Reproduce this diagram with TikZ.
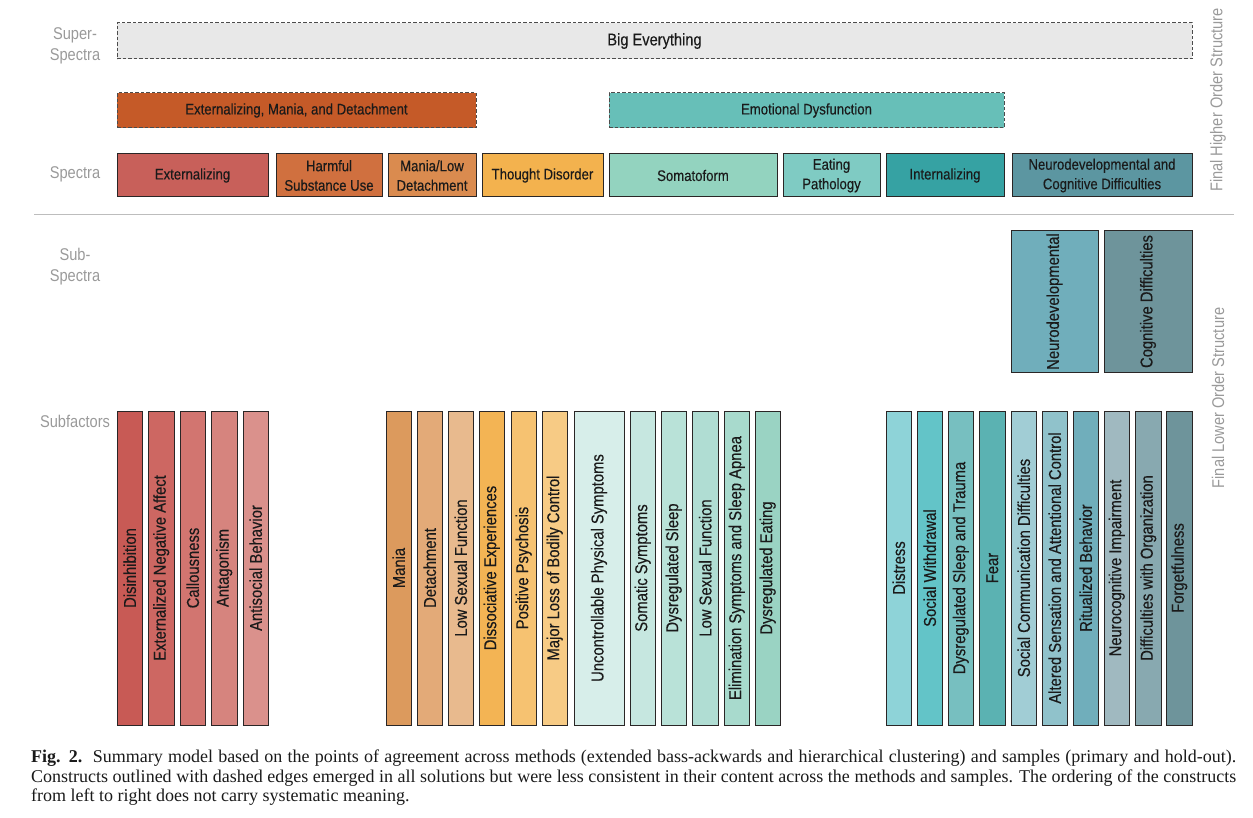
\documentclass[tikz,border=0pt]{standalone}
\usepackage{fontspec}
\setmainfont{Liberation Sans}[FakeStretch=0.86]
\newfontfamily\boxfont{Liberation Sans}[FakeStretch=0.86, FakeBold=0.3]
\newfontfamily\capfont{Liberation Serif}
\newcommand\fspec{\boxfont\fontsize{15.3}{19.5}\selectfont}
\newcommand\fbig{\boxfont\fontsize{17}{20}\selectfont}
\newcommand\fsubf{\boxfont\fontsize{17.2}{20}\selectfont}
\newcommand\flab{\fontsize{17}{21}\selectfont}
\newcommand\fcap{\fontsize{18}{20}\selectfont}
% colours
\definecolor{cBig}{HTML}{E8E8E8}
\definecolor{cEMD}{HTML}{C55A28}
\definecolor{cED}{HTML}{67BFB8}
\definecolor{cExt}{HTML}{C8605A}
\definecolor{cHSU}{HTML}{D0703F}
\definecolor{cMLD}{HTML}{DA8B4F}
\definecolor{cTD}{HTML}{F3B24E}
\definecolor{cSom}{HTML}{93D3BF}
\definecolor{cEat}{HTML}{7FCBC3}
\definecolor{cInt}{HTML}{36A2A3}
\definecolor{cNCD}{HTML}{5C96A1}
\definecolor{cLab}{HTML}{9A9A9A}
\definecolor{cLine}{HTML}{BDBDBD}
\definecolor{cTxt}{HTML}{1A1A1A}
\definecolor{cBord}{HTML}{2A2626}
% subfactor colours
\definecolor{s1}{HTML}{C85A55}
\definecolor{s2}{HTML}{CD6762}
\definecolor{s3}{HTML}{D27570}
\definecolor{s4}{HTML}{D6847E}
\definecolor{s5}{HTML}{DA918C}
\definecolor{m1}{HTML}{DC9A5D}
\definecolor{m2}{HTML}{E3AA78}
\definecolor{m3}{HTML}{E8BA8E}
\definecolor{m4}{HTML}{F3B454}
\definecolor{m5}{HTML}{F6C271}
\definecolor{m6}{HTML}{F7CB85}
\definecolor{g1}{HTML}{D7EEEA}
\definecolor{g2}{HTML}{C6E7E0}
\definecolor{g3}{HTML}{B9E2D8}
\definecolor{g4}{HTML}{B0DDD3}
\definecolor{g5}{HTML}{A8DACD}
\definecolor{g6}{HTML}{9AD3C3}
\definecolor{t1}{HTML}{8ED3D8}
\definecolor{t2}{HTML}{63C4C8}
\definecolor{t3}{HTML}{77BFC0}
\definecolor{t4}{HTML}{5BB2B2}
\definecolor{t5}{HTML}{A1CDD5}
\definecolor{t6}{HTML}{90C2CB}
\definecolor{t7}{HTML}{70AEBB}
\definecolor{t8}{HTML}{A0B9C0}
\definecolor{t9}{HTML}{88A9B0}
\definecolor{t10}{HTML}{6E949B}
\tikzset{
  boxbase/.style={draw=cBord, line width=1pt, inner sep=0pt, text=cTxt, align=center},
  spec/.style={boxbase, font=\fspec, minimum height=43pt},
  dashbox/.style={boxbase, draw=black!70, dash pattern=on 3.5pt off 2pt, font=\fspec, minimum height=35pt},
  sfb/.style={boxbase, rotate=90, font=\fsubf, minimum width=314pt, minimum height=25.5pt},
  ssb/.style={boxbase, rotate=90, font=\fsubf, minimum width=141pt},
  rowlab/.style={text=cLab, font=\flab, align=center, inner sep=0pt},
  sidelab/.style={text=cLab, font=\flab, rotate=90, inner sep=0pt},
  capline/.style={anchor=base west, inner sep=0pt, text=cTxt, font=\capfont\fcap}
}
\newcommand\spbox[5]{\node[spec, fill=#4, minimum width={(#3)-(#2)}] (#1) at ({((#2)+(#3))/2},175.5) {#5};}
\newcommand\sfbar[4]{\node[sfb, fill=#3] (#1) at ({(#2)+12.75},568) {#4};}
\begin{document}
\begin{tikzpicture}[x=1pt,y=-1pt]
\useasboundingbox (0,0) rectangle (1253,818);

% row labels
\node[rowlab] (lsuper) at (75,46) {Super-\\Spectra};
\node[rowlab] (lspec) at (75,174) {Spectra};
\node[rowlab] (lsub) at (75,267) {Sub-\\Spectra};
\node[rowlab] (lsubf) at (75,421) {Subfactors};

% side labels
\node[sidelab] (lhigh) at (1218,100) {Final Higher Order Structure};
\node[sidelab] (llow) at (1218,398) {Final Lower Order Structure};

% separator
\coordinate (sepL) at (34,215);
\coordinate (sepR) at (1234,215);
\draw[cLine, line width=1pt] (sepL) -- (sepR);

% super-spectra
\node[dashbox, fill=cBig, font=\fbig, minimum width=1075pt, minimum height=36pt] (big) at (654.5,41) {Big Everything};
\node[dashbox, fill=cEMD, minimum width=359pt] (emd) at (296.5,110.5) {Externalizing, Mania, and Detachment};
\node[dashbox, fill=cED, minimum width=395pt] (ed) at (806.5,110.5) {Emotional Dysfunction};

% spectra
\spbox{ext}{117}{268}{cExt}{Externalizing}
\spbox{hsu}{276}{382}{cHSU}{Harmful\\Substance Use}
\spbox{mld}{388}{476}{cMLD}{Mania/Low\\Detachment}
\spbox{td}{482}{603}{cTD}{Thought Disorder}
\spbox{som}{609}{777}{cSom}{Somatoform}
\spbox{eat}{783}{880}{cEat}{Eating\\Pathology}
\spbox{int}{886}{1004}{cInt}{Internalizing}
\spbox{ncd}{1012}{1192}{cNCD}{Neurodevelopmental and\\Cognitive Difficulties}

% sub-spectra
\node[ssb, fill=t7, minimum height=87pt] (neuro) at (1054.5,301.5) {Neurodevelopmental};
\node[ssb, fill=t10, minimum height=88pt] (cogd) at (1148,301.5) {Cognitive Difficulties};

% subfactors: externalizing
\sfbar{dis}{117}{s1}{Disinhibition}
\sfbar{ena}{148.5}{s2}{Externalized Negative Affect}
\sfbar{cal}{180}{s3}{Callousness}
\sfbar{ant}{211.5}{s4}{Antagonism}
\sfbar{asb}{243}{s5}{Antisocial Behavior}
% mania / detachment / thought disorder
\sfbar{man}{386}{m1}{Mania}
\sfbar{det}{417}{m2}{Detachment}
\sfbar{lsf}{448}{m3}{Low Sexual Function}
\sfbar{dex}{479}{m4}{Dissociative Experiences}
\sfbar{pps}{511}{m5}{Positive Psychosis}
\sfbar{mlb}{542}{m6}{Major Loss of Bodily Control}
% somatoform / eating
\node[sfb, fill=g1, minimum height=50pt] (ups) at (599,568) {Uncontrollable Physical Symptoms};
\sfbar{sso}{630}{g2}{Somatic Symptoms}
\sfbar{dsl}{661}{g3}{Dysregulated Sleep}
\sfbar{lsf2}{692.5}{g4}{Low Sexual Function}
\sfbar{esa}{724}{g5}{Elimination Symptoms and Sleep Apnea}
\sfbar{dea}{755}{g6}{Dysregulated Eating}
% internalizing / neurodevelopmental
\sfbar{dstr}{886}{t1}{Distress}
\sfbar{swd}{917}{t2}{Social Withdrawal}
\sfbar{dst}{948}{t3}{Dysregulated Sleep and Trauma}
\sfbar{fear}{979.5}{t4}{Fear}
\sfbar{scd}{1011}{t5}{Social Communication Difficulties}
\sfbar{asa}{1042}{t6}{Altered Sensation and Attentional Control}
\sfbar{rb}{1073}{t7}{Ritualized Behavior}
\sfbar{nci}{1104}{t8}{Neurocognitive Impairment}
\sfbar{dwo}{1135.5}{t9}{Difficulties with Organization}
\sfbar{fgt}{1166.5}{t10}{Forgetfulness}

% caption
\node[capline] (cap1) at (31,762) {\makebox[1205pt][s]{\textbf{Fig. 2.}\ \ Summary model based on the points of agreement across methods (extended bass-ackwards and hierarchical clustering) and samples (primary and hold-out).}};
\node[capline] (cap2) at (31,782) {\makebox[1205pt][s]{Constructs outlined with dashed edges emerged in all solutions but were less consistent in their content across the methods and samples. The ordering of the constructs}};
\node[capline] (cap3) at (31,801) {from left to right does not carry systematic meaning.};
\end{tikzpicture}
\end{document}
